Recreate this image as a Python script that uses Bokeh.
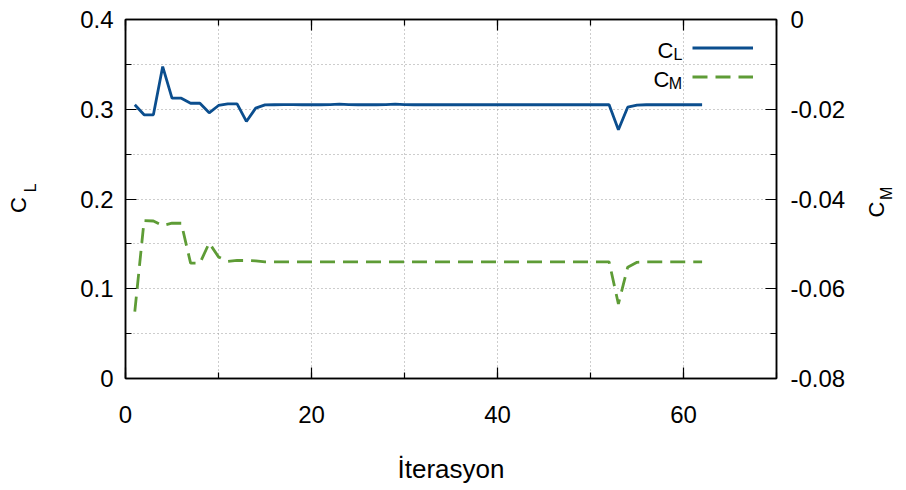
import math
from bokeh.plotting import figure
from bokeh.models import (Range1d, LinearAxis, SingleIntervalTicker, FixedTicker, Label,
                          Legend, LegendItem, CustomJSTickFormatter)
from bokeh.core.properties import value
from bokeh.embed import file_html
from bokeh.resources import INLINE

# ---------------- data ----------------
iterations = [1, 2, 3, 4, 5, 6, 7, 8, 9, 10,
              11, 12, 13, 14, 15, 16, 17, 18, 19, 20,
              21, 22, 23, 24, 25, 26, 27, 28, 29, 30,
              31, 32, 33, 34, 35, 36, 37, 38, 39, 40,
              41, 42, 43, 44, 45, 46, 47, 48, 49, 50,
              51, 52, 53, 54, 55, 56, 57, 58, 59, 60,
              61, 62]

cl_values = [0.3050, 0.2938, 0.2938, 0.3476, 0.3123, 0.3123, 0.3067, 0.3067, 0.2960, 0.3042,
             0.3060, 0.3060, 0.2864, 0.3012, 0.3048, 0.3050, 0.3052, 0.3052, 0.3050, 0.3050,
             0.3050, 0.3052, 0.3058, 0.3052, 0.3050, 0.3050, 0.3050, 0.3052, 0.3058, 0.3052,
             0.3050, 0.3050, 0.3050, 0.3050, 0.3050, 0.3050, 0.3050, 0.3050, 0.3050, 0.3050,
             0.3050, 0.3050, 0.3050, 0.3050, 0.3050, 0.3050, 0.3050, 0.3050, 0.3050, 0.3050,
             0.3050, 0.3050, 0.2771, 0.3023, 0.3045, 0.3050, 0.3050, 0.3050, 0.3050, 0.3050,
             0.3050, 0.3050]

cm_values = [-0.0651, -0.0448, -0.0449, -0.0459, -0.0454, -0.0454, -0.0543, -0.0543, -0.0498, -0.0529,
             -0.0539, -0.0537, -0.0537, -0.0538, -0.0540, -0.0540, -0.0540, -0.0540, -0.0540, -0.0540,
             -0.0540, -0.0540, -0.0540, -0.0540, -0.0540, -0.0540, -0.0540, -0.0540, -0.0540, -0.0540,
             -0.0540, -0.0540, -0.0540, -0.0540, -0.0540, -0.0540, -0.0540, -0.0540, -0.0540, -0.0540,
             -0.0540, -0.0540, -0.0540, -0.0540, -0.0540, -0.0540, -0.0540, -0.0540, -0.0540, -0.0540,
             -0.0540, -0.0540, -0.0634, -0.0552, -0.0541, -0.0540, -0.0540, -0.0540, -0.0540, -0.0540,
             -0.0540, -0.0540]

x_label = "İterasyon"

# ---------------- styling ----------------
FONT = "Liberation Sans"
BLUE = "#0b4e8e"
GREEN = "#5e9c36"
TICK_SIZE = "24px"
NB = "\u00a0"  # non-breaking space, used to nudge rotated title letters along the axis

p = figure(width=906, height=490, x_range=Range1d(0, 70), y_range=Range1d(0, 0.4),
           output_backend="svg", toolbar_location=None,
           min_border_left=125, min_border_right=128, min_border_top=19, min_border_bottom=112)
p.extra_y_ranges = {"cm": Range1d(-0.08, 0)}
p.background_fill_color = "white"
p.border_fill_color = "white"
p.outline_line_color = "black"
p.outline_line_width = 1.5

def style_axis(ax):
    ax.major_tick_in = 11
    ax.major_tick_out = 0
    ax.minor_tick_in = 6
    ax.minor_tick_out = 0
    ax.major_tick_line_color = "black"
    ax.minor_tick_line_color = "black"
    ax.major_tick_line_width = 1.2
    ax.minor_tick_line_width = 1.2
    ax.axis_line_color = "black"
    ax.axis_line_width = 1.5
    ax.major_label_text_font = FONT
    ax.major_label_text_font_size = TICK_SIZE
    ax.major_label_text_color = "black"

def bare_axis(y_range_name="default", ticks=()):
    ax = LinearAxis(ticker=FixedTicker(ticks=list(ticks)), y_range_name=y_range_name)
    ax.axis_line_color = None
    ax.major_tick_line_color = None
    ax.minor_tick_line_color = None
    ax.major_tick_out = 0
    ax.minor_tick_out = 0
    ax.major_tick_in = 0
    ax.minor_tick_in = 0
    return ax

def label_axis(text, size, standoff):
    """A tick-less left axis that only carries a title letter."""
    ax = bare_axis()
    ax.major_label_standoff = 0
    ax.axis_label = text
    ax.axis_label_text_font = FONT
    ax.axis_label_text_font_size = size
    ax.axis_label_text_font_style = "normal"
    ax.axis_label_text_color = "black"
    ax.axis_label_standoff = standoff
    return ax

def letter_axis(letter, at, size, standoff):
    """A right-side axis whose single tick label is a title letter reading bottom to top."""
    ax = bare_axis("cm", [at])
    ax.formatter = CustomJSTickFormatter(code="return '%s';" % letter)
    ax.major_label_orientation = math.pi / 2
    ax.major_label_text_font = FONT
    ax.major_label_text_font_size = size
    ax.major_label_text_color = "black"
    ax.major_label_standoff = standoff
    return ax

# bottom x axis
xa = p.xaxis[0]
xa.ticker = SingleIntervalTicker(interval=20, num_minor_ticks=2)
style_axis(xa)
xa.major_label_standoff = 27
xa.axis_label = x_label
xa.axis_label_text_font = FONT
xa.axis_label_text_font_size = "26px"
xa.axis_label_text_font_style = "normal"
xa.axis_label_text_color = "black"
xa.axis_label_standoff = 28

# left y axis (C_L)
ya = p.yaxis[0]
ya.ticker = SingleIntervalTicker(interval=0.1, num_minor_ticks=2)
style_axis(ya)
ya.major_label_standoff = 12
ya.formatter = CustomJSTickFormatter(code="return Math.abs(tick) < 1e-9 ? '0' : tick.toFixed(1);")

# left axis title: "C" with subscript "L" (reads bottom to top)
p.add_layout(label_axis(NB * 5 + "L", "16px", 39), "left")
p.add_layout(label_axis("C" + NB * 2, "22px", -12), "left")

# right y axis (C_M)
ra = LinearAxis(y_range_name="cm", ticker=SingleIntervalTicker(interval=0.02, num_minor_ticks=2))
style_axis(ra)
ra.major_label_standoff = 14
ra.formatter = CustomJSTickFormatter(code="return Math.abs(tick) < 1e-9 ? '0' : tick.toFixed(2);")
p.add_layout(ra, "right")

# right axis title: "C" with subscript "M" (reads bottom to top)
p.add_layout(letter_axis("C", -0.04412, "22px", 28), "right")
p.add_layout(letter_axis("M", -0.04022, "16px", -18), "right")

# top mirrored x ticks
ta = LinearAxis(ticker=SingleIntervalTicker(interval=20, num_minor_ticks=2))
style_axis(ta)
ta.major_label_text_font_size = "0px"
ta.major_label_standoff = 0
ta.formatter = CustomJSTickFormatter(code="return '';")
p.add_layout(ta, "above")

# grid
p.xgrid.ticker = SingleIntervalTicker(interval=10)
p.ygrid.ticker = SingleIntervalTicker(interval=0.05)
for g in (p.xgrid[0], p.ygrid[0]):
    g.grid_line_color = "#9a9a9a"
    g.grid_line_dash = "1 3"
    g.grid_line_width = 1

# series
r_cl = p.line(iterations, cl_values, line_color=BLUE, line_width=2.8)
r_cm = p.line(iterations, cm_values, line_color=GREEN, line_width=2.8,
              line_dash="15 8", y_range_name="cm")

# legend (line samples only; text drawn as labels to the left, gnuplot style)
legend = Legend(items=[LegendItem(label=value(""), renderers=[r_cl]),
                       LegendItem(label=value(""), renderers=[r_cm])],
                location=(567, 287), orientation="vertical",
                glyph_width=61, glyph_height=29, label_width=0, label_height=29,
                label_standoff=0, label_text_font_size="1px",
                padding=0, margin=0, spacing=0,
                border_line_color=None, background_fill_alpha=0)
p.add_layout(legend)

FL, FB = 125, 378  # frame left / bottom in canvas pixels

def add_text(txt, cx, cy, size):
    p.add_layout(Label(x=cx - FL, y=FB - cy, x_units="screen", y_units="screen",
                       text=txt, text_font=FONT, text_font_size=size,
                       text_color="black", text_align="center", text_baseline="middle"))

# legend texts
add_text("C", 665, 50, "22px")
add_text("L", 677.5, 54, "16px")
add_text("C", 661, 79, "22px")
add_text("M", 675, 83, "16px")

open("out.html", "w").write(file_html(p, INLINE))
